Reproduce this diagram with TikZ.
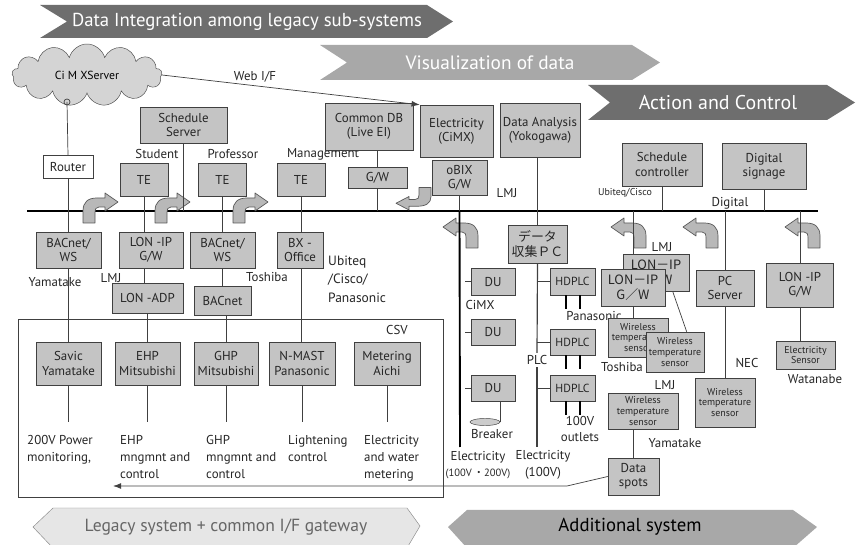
\documentclass[tikz,border=0pt]{standalone}
\usepackage{fontspec}
\setmainfont{PT Sans}
\newfontfamily\jpfont{Noto Sans CJK JP}
\usetikzlibrary{shapes.symbols,shapes.geometric,calc,arrows.meta}

\definecolor{banddark}{HTML}{6E6E6E}
\definecolor{bandmid}{HTML}{A8A8A8}
\definecolor{bandpale}{HTML}{E6E6E6}
\definecolor{unitgray}{HTML}{C4C4C4}

\def\bendarrow{(0,30) -- (0,18) .. controls (0,9) and (5,5) .. (14,5) -- (22,5) -- (22,0) -- (35,9) -- (22,18) -- (22,14) -- (16,14) .. controls (13,14) and (12,16) .. (12,20) -- (12,30) -- cycle}

\tikzset{
	unit/.style={draw=black!75, fill=unitgray, align=center, inner sep=1pt, text=black!85},
	boxsize/.style 2 args={minimum width=#1*0.03cm, minimum height=#2*0.03cm},
	small/.style={font=\fontsize{8.5}{9}\selectfont},
	note/.style={inner sep=0pt, text=black!85},
	wire/.style={draw=black!75, line width=0.6pt},
	bentarrow/.style={draw=black!65, fill=black!28, line join=round, line width=0.6pt},
	bandtext/.style={inner sep=0pt, text=white, font=\fontsize{16}{17}\selectfont},
	jp/.style={font=\jpfont\fontsize{11}{13}\selectfont},
}

\begin{document}
\begin{tikzpicture}[x=0.03cm, y=-0.03cm, font=\fontsize{11}{12}\selectfont]
	\useasboundingbox (0,0) rectangle (864,545);
	
	% banners
	\fill[banddark] (40,5) -- (427,5) -- (453,21.5) -- (427,38) -- (40,38) -- (67,21.5) -- cycle;
	\fill[bandmid] (320,45) -- (632,45) -- (660,62.5) -- (632,80) -- (320,80) -- (347,62.5) -- cycle;
	\fill[banddark] (588,85) -- (827,85) -- (855,102.5) -- (827,120) -- (588,120) -- (610,102.5) -- cycle;
	\filldraw[fill=bandpale, draw=black!45] (33,527) -- (53,508) -- (407,508) -- (420,526) -- (407,548) -- (53,548) -- cycle;
	\fill[bandmid] (448,527) -- (467,510) -- (793,510) -- (817,527) -- (793,548) -- (467,548) -- cycle;
	\node[bandtext] (integration) at (247,21.5) {Data Integration among legacy sub-systems};
	\node[bandtext, font=\fontsize{16.5}{17}\selectfont] (visual) at (490,62.5) {Visualization of data};
	\node[bandtext, font=\fontsize{17}{18}\selectfont] (action) at (718,102.5) {Action and Control};
	\node[bandtext, text=black!60, font=\fontsize{15}{16}\selectfont] (legacy) at (226,527) {Legacy system + common I/F gateway};
	\node[bandtext, text=black] (additional) at (630,527) {Additional system};
	
	% bus and legacy frame
	\coordinate (busL) at (27,211);
	\coordinate (busR) at (818,211);
	\draw[line width=1.6pt] (busL) -- (busR);
	\draw[black!75] (18,319) rectangle (443,497);
	
	% bent arrows
	\draw[bentarrow, shift={(83,193)}] \bendarrow;
	\draw[bentarrow, shift={(155,193)}] \bendarrow;
	\draw[bentarrow, shift={(233,193)}] \bendarrow;
	\draw[bentarrow, shift={(431,210)}, xscale=-1, yscale=-0.75] \bendarrow;
	\draw[bentarrow, shift={(478,218)}, xscale=-1] \bendarrow;
	\draw[bentarrow, shift={(646,218)}, xscale=-1] \bendarrow;
	\draw[bentarrow, shift={(718,218)}, xscale=-1] \bendarrow;
	\draw[bentarrow, shift={(820,218)}, xscale=-1] \bendarrow;
	
	% top row
	\node[cloud, cloud puffs=13, aspect=2.4, draw=black!70, fill=black!17, boxsize={150}{62}, inner sep=0pt, font=\fontsize{10}{11}\selectfont] (cimx) at (87,75) {Ci M XServer};
	\coordinate (plug) at (67,102);
	\node[unit, fill=white, boxsize={50}{23}] (router) at (68,167) {Router};
	\node[unit, boxsize={87}{36}] (schedsrv) at (183.5,125) {Schedule\\Server};
	\node[unit, boxsize={48}{33}] (te1) at (144,179.5) {TE};
	\node[unit, boxsize={48}{33}] (te2) at (222.5,179.5) {TE};
	\node[unit, boxsize={48}{33}] (te3) at (301,179.5) {TE};
	\node[note] (student) at (157,154) {Student};
	\node[note] (professor) at (233,154) {Professor};
	\node[note] (management) at (323,154) {Management};
	\node[unit, boxsize={88}{47}] (commondb) at (369,126.5) {Common DB\\(Live EI)};
	\node[unit, boxsize={59}{21}] (gwdb) at (377.5,177.5) {G/W};
	\node[unit, boxsize={73}{52}] (elec) at (456.5,131) {Electricity\\(CiMX)};
	\node[unit, boxsize={55}{35}] (obix) at (459.5,177.5) {oBIX\\G/W};
	\node[unit, boxsize={80}{54}] (analysis) at (540,130) {Data Analysis\\(Yokogawa)};
	\node[unit, boxsize={80}{43}] (schedctl) at (662,164.5) {Schedule\\controller};
	\node[unit, boxsize={84}{46}] (signage) at (764,166) {Digital\\signage};
	\node[note] (webif) at (255,77) {Web I/F};
	\node[note] (lmjobix) at (507,193) {LMJ};
	\node[note, small] (ubiteqtop) at (625,193) {Ubiteq/Cisco};
	\node[note] (digital) at (730,203) {Digital};
	
	% legacy side
	\node[unit, boxsize={65}{36}] (bacws1) at (68.5,250) {BACnet/\\WS};
	\node[unit, boxsize={64}{36}] (lonip1) at (151,250) {LON -IP\\G/W};
	\node[unit, boxsize={71}{30}] (lonadp) at (147.5,298) {LON -ADP};
	\node[unit, boxsize={65}{36}] (bacws2) at (222.5,250) {BACnet/\\WS};
	\node[unit, boxsize={57}{29}] (bacnet) at (222.5,300.5) {BACnet};
	\node[unit, boxsize={46}{36}] (bxoffice) at (300,250) {BX -\\Office};
	\node[note] (yamatake1) at (55,282) {Yamatake};
	\node[note] (lmj1) at (111,278) {LMJ};
	\node[note] (toshiba1) at (267,277) {Toshiba};
	\node[note, align=left, anchor=north west, font=\fontsize{11.5}{15.5}\selectfont] (ubiteq) at (328,256) {Ubiteq\\/Cisco/\\Panasonic};
	\node[note] (csv) at (397,330) {CSV};
	\node[unit, boxsize={65}{43}] (savic) at (68.5,363.5) {Savic\\Yamatake};
	\node[unit, boxsize={65}{43}] (ehp) at (147.5,363.5) {EHP\\Mitsubishi};
	\node[unit, boxsize={64}{43}] (ghp) at (226,363.5) {GHP\\Mitsubishi};
	\node[unit, boxsize={66}{43}] (nmast) at (302,363.5) {N-MAST\\Panasonic};
	\node[unit, boxsize={66}{43}] (metering) at (387,363.5) {Metering\\Aichi};
	\node[note, align=left, anchor=north west, font=\fontsize{11}{14.5}\selectfont] (power) at (27,435) {200V Power\\monitoring,};
	\node[note, align=left, anchor=north west, font=\fontsize{11}{14.5}\selectfont] (ehpctl) at (120,435) {EHP\\mngmnt and\\control};
	\node[note, align=left, anchor=north west, font=\fontsize{11}{14.5}\selectfont] (ghpctl) at (206,435) {GHP\\mngmnt and\\control};
	\node[note, align=left, anchor=north west, font=\fontsize{11}{14.5}\selectfont] (lightctl) at (288,435) {Lightening\\control};
	\node[note, align=left, anchor=north west, font=\fontsize{11}{14.5}\selectfont] (meterctl) at (364,435) {Electricity\\and water\\metering};
	
	% additional side
	\node[unit, jp, boxsize={59}{38}] (datapc) at (537.5,244) {データ\\収集ＰＣ};
	\node[unit, boxsize={44}{27}] (du1) at (493,281.5) {DU};
	\node[unit, boxsize={44}{26}] (du2) at (493,332) {DU};
	\node[unit, boxsize={44}{26}] (du3) at (493,388) {DU};
	\node[unit, boxsize={45}{27}, font=\fontsize{10}{11}\selectfont] (hdplc1) at (572.5,281.5) {HDPLC};
	\node[unit, boxsize={45}{26}, font=\fontsize{10}{11}\selectfont] (hdplc2) at (572.5,342) {HDPLC};
	\node[unit, boxsize={45}{26}, font=\fontsize{10}{11}\selectfont] (hdplc3) at (572.5,388) {HDPLC};
	\node[ellipse, draw=black!75, fill=black!20, boxsize={30}{7}, inner sep=0pt] (breaker) at (485,422) {};
	\node[note] (cimxlbl) at (480,305) {CiMX};
	\node[note, fill=white, inner sep=2pt] (plc) at (537,360) {PLC};
	\node[note] (panasonic) at (594,316) {Panasonic};
	\node[note] (breakerlbl) at (492,434) {Breaker};
	\node[note, align=center, font=\fontsize{11}{13}\selectfont] (outlets) at (580,429) {100V\\outlets};
	\node[note, align=center, font=\fontsize{11}{14}\selectfont] (elec12) at (478,465) {Electricity\\{\fontsize{9}{10}\selectfont(100V\,{\jpfont ・}200V)}};
	\node[note, align=center, font=\fontsize{11}{14}\selectfont] (elec1) at (543,465) {Electricity\\(100V)};
	\coordinate (cimxend) at (460,447);
	\coordinate (plcend) at (537,447);
	
	\node[unit, jp, boxsize={66}{37}] (lonipb) at (656,272.5) {LON－IP\\G／W};
	\node[unit, jp, boxsize={64}{37}] (lonipf) at (633,287.5) {LON－IP\\G／W};
	\node[unit, small, boxsize={60}{39}] (wts1) at (638,337.5) {Wireless\\temperature\\sensor};
	\node[unit, small, boxsize={58}{40}] (wts2) at (675,352) {Wireless\\temperature\\sensor};
	\node[unit, boxsize={58}{36}] (pcserver) at (725,288) {PC\\Server};
	\node[unit, small, boxsize={60}{49}] (wts3) at (725,402.5) {Wireless\\temperature\\sensor};
	\node[unit, boxsize={67}{44}] (lonipw) at (800,285) {LON -IP\\G/W};
	\node[unit, small, boxsize={59}{28}] (elecsens) at (805.5,355) {Electricity\\Sensor};
	\node[unit, small, boxsize={70}{36}] (wts4) at (643,411) {Wireless\\temperature\\sensor};
	\node[unit, boxsize={51}{37}] (dataspots) at (633.5,476.5) {Data\\spots};
	\node[note] (lmj2) at (662,247) {LMJ};
	\node[note] (toshiba2) at (622,367) {Toshiba};
	\node[note] (nec) at (747,363) {NEC};
	\node[note] (watanabe) at (815,379) {Watanabe};
	\node[note] (lmj3) at (665,385) {LMJ};
	\node[note] (yamatake2) at (675,443) {Yamatake};
	\coordinate (csvbend) at (567,486);
	\coordinate (csvend) at (113,486);
	
	% connectors
	\draw[wire] (plug) circle (3);
	\draw[wire] (plug) -- (router.north);
	\draw[wire] (router.south) -- (router.south |- bacws1.north);
	\draw[wire] (bacws1.south) -- (bacws1.south |- savic.north);
	\draw[wire] (te1.south) -- (te1.south |- lonip1.north);
	\draw[wire] (te1.south |- lonip1.south) -- (te1.south |- lonadp.north);
	\draw[wire] (lonadp.south -| ehp) -- (ehp.north);
	\draw[wire] (schedsrv.south) -- (schedsrv.south |- busL);
	\draw[wire] (te2.south) -- (bacws2.north);
	\draw[wire] (bacws2.south) -- (bacnet.north);
	\draw[wire] (bacnet.south -| ghp) -- (ghp.north);
	\draw[wire] (te3.south) -- (te3.south |- bxoffice.north);
	\draw[wire] (te3.south |- bxoffice.south) -- (te3.south |- nmast.north);
	\draw[wire] (gwdb |- commondb.south) -- (gwdb.north);
	\draw[wire] (gwdb.south) -- (gwdb.south |- busL);
	\draw[wire] (obix.south) -- (obix.south |- busL);
	\draw[line width=1.6pt] (obix.south |- busL) -- (cimxend);
	\draw[wire] (datapc |- analysis.south) -- (datapc.north);
	\draw[wire, line width=1pt] (datapc.south) -- (plc.north);
	\draw[wire, line width=1pt] (plc.south) -- (plcend);
	\foreach \h in {hdplc1,hdplc2,hdplc3} {
		\draw[wire] (\h.west -| plcend) -- (\h.west);
		\draw[line width=1.5pt] ([xshift=-0.2cm]\h.south) -- ++(0,14);
		\draw[line width=1.5pt] ([xshift=0.22cm]\h.south) -- ++(0,14);
	}
	\foreach \d in {du1,du2,du3}
		\draw[wire] (\d.west) -- ++(-6,0);
	\draw[wire] (du3.south -| breaker.east) -- (breaker.east);
	\draw[wire] (schedctl.south) -- (schedctl.south |- busL);
	\draw[wire] (signage.south) -- (signage.south |- busL);
	\draw[wire] (lonipf.north |- busL) -- (lonipf.north |- lonipb.north);
	\draw[wire] (lonipf.south) -- (lonipf.south |- wts1.north);
	\draw[wire] ($(lonipb.south)!0.5!(lonipb.south east)$) -- ($(wts2.north)!0.4!(wts2.north east)$);
	\draw[wire] (pcserver.north |- busL) -- (pcserver.north);
	\draw[wire] (pcserver.south) -- (wts3.north);
	\draw[wire] (lonipw.north |- busL) -- (lonipw.north);
	\draw[wire] (lonipw.south) -- (lonipw.south |- elecsens.north);
	\draw[wire] (dataspots |- wts4.south) -- (dataspots.north);
	\foreach \b in {savic,ehp,ghp,nmast,metering}
		\draw[wire] (\b.south) -- ++(0,37);
	\draw[wire, -{Latex[length=7pt,width=5pt]}] (cimx.east) -- (elec.north west);
	\draw[wire, -{Latex[length=7pt,width=5pt]}] (dataspots.west) -- (csvbend) -- (csvend);
	
\end{tikzpicture}
\end{document}
